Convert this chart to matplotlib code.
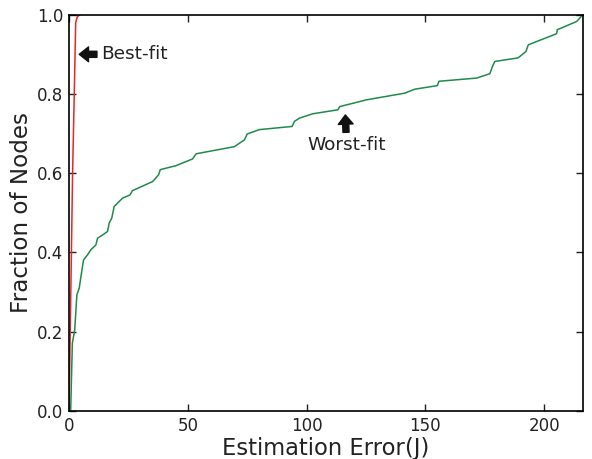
import matplotlib
matplotlib.use("Agg")
import matplotlib.pyplot as plt

# Worst-fit CDF (estimation error in J, fraction of nodes)
worst_x = [0.0, 0.7, 1.4, 2.4, 3.3, 4.3, 5.0, 6.1, 7.8, 9.2, 11.3, 12.0, 14.1, 16.2, 16.9,
           18.0, 19.0, 22.5, 25.6, 26.7, 35.2, 37.7, 38.4, 45.0, 52.0, 53.5, 69.6, 73.8, 75.0,
           80.1, 93.9, 94.9, 97.0, 102.6, 113.2, 113.9, 125.1, 141.3, 145.5, 155.0, 155.7,
           171.5, 177.1, 178.2, 179.2, 189.0, 192.3, 193.3, 205.2, 205.5, 213.7, 216.2]
worst_y = [0.0, 0.003, 0.171, 0.205, 0.293, 0.310, 0.339, 0.381, 0.394, 0.407, 0.419, 0.436,
           0.444, 0.453, 0.474, 0.487, 0.516, 0.537, 0.545, 0.556, 0.579, 0.596, 0.609, 0.619,
           0.636, 0.649, 0.667, 0.684, 0.699, 0.710, 0.718, 0.731, 0.739, 0.750, 0.760, 0.768,
           0.785, 0.802, 0.812, 0.821, 0.832, 0.840, 0.851, 0.869, 0.882, 0.891, 0.907, 0.924,
           0.952, 0.962, 0.983, 1.0]

# Best-fit CDF
best_x = [0.0, 0.5, 1.0, 1.5, 2.2, 2.8, 3.5, 4.7]
best_y = [0.0, 0.2, 0.4, 0.6, 0.8, 0.98, 0.995, 1.0]

x_ticks = [0, 50, 100, 150, 200]
y_ticks = [0.0, 0.2, 0.4, 0.6, 0.8, 1.0]

fig = plt.figure(figsize=(5.92, 4.59), dpi=100)
ax = fig.add_axes([0.1166, 0.1046, 0.8677, 0.8634])

ax.plot(worst_x, worst_y, color='#1f8a4c', linewidth=1.1)
ax.plot(best_x, best_y, color='#e8242c', linewidth=1.1)

ax.set_xlim(0, 216.2)
ax.set_ylim(0, 1.0)
ax.set_xticks(x_ticks)
ax.set_yticks(y_ticks)
ax.set_yticklabels(['%.1f' % v for v in y_ticks])
ax.tick_params(direction='in', top=True, right=True, length=5, width=1,
               labelsize=12, colors='#222222', pad=4)
for s in ax.spines.values():
    s.set_linewidth(1.2)

ax.set_xlabel('Estimation Error(J)', fontsize=16.3, color='#222222', labelpad=1.5)
ax.set_ylabel('Fraction of Nodes', fontsize=16.6, color='#222222', labelpad=3)

arrow = dict(arrowstyle='simple,head_width=0.8,head_length=0.5,tail_width=0.33',
             facecolor='#111111', edgecolor='#111111', shrinkA=1, shrinkB=0)
ax.annotate('Best-fit', xy=(4.3, 0.900), xytext=(13.5, 0.900), fontsize=13.3,
            va='center', ha='left', color='#222222', arrowprops=arrow)
ax.annotate('Worst-fit', xy=(116.3, 0.747), xytext=(116.8, 0.670), fontsize=13.3,
            va='center', ha='center', color='#222222', arrowprops=arrow)

fig.savefig('out.png', dpi=100)
